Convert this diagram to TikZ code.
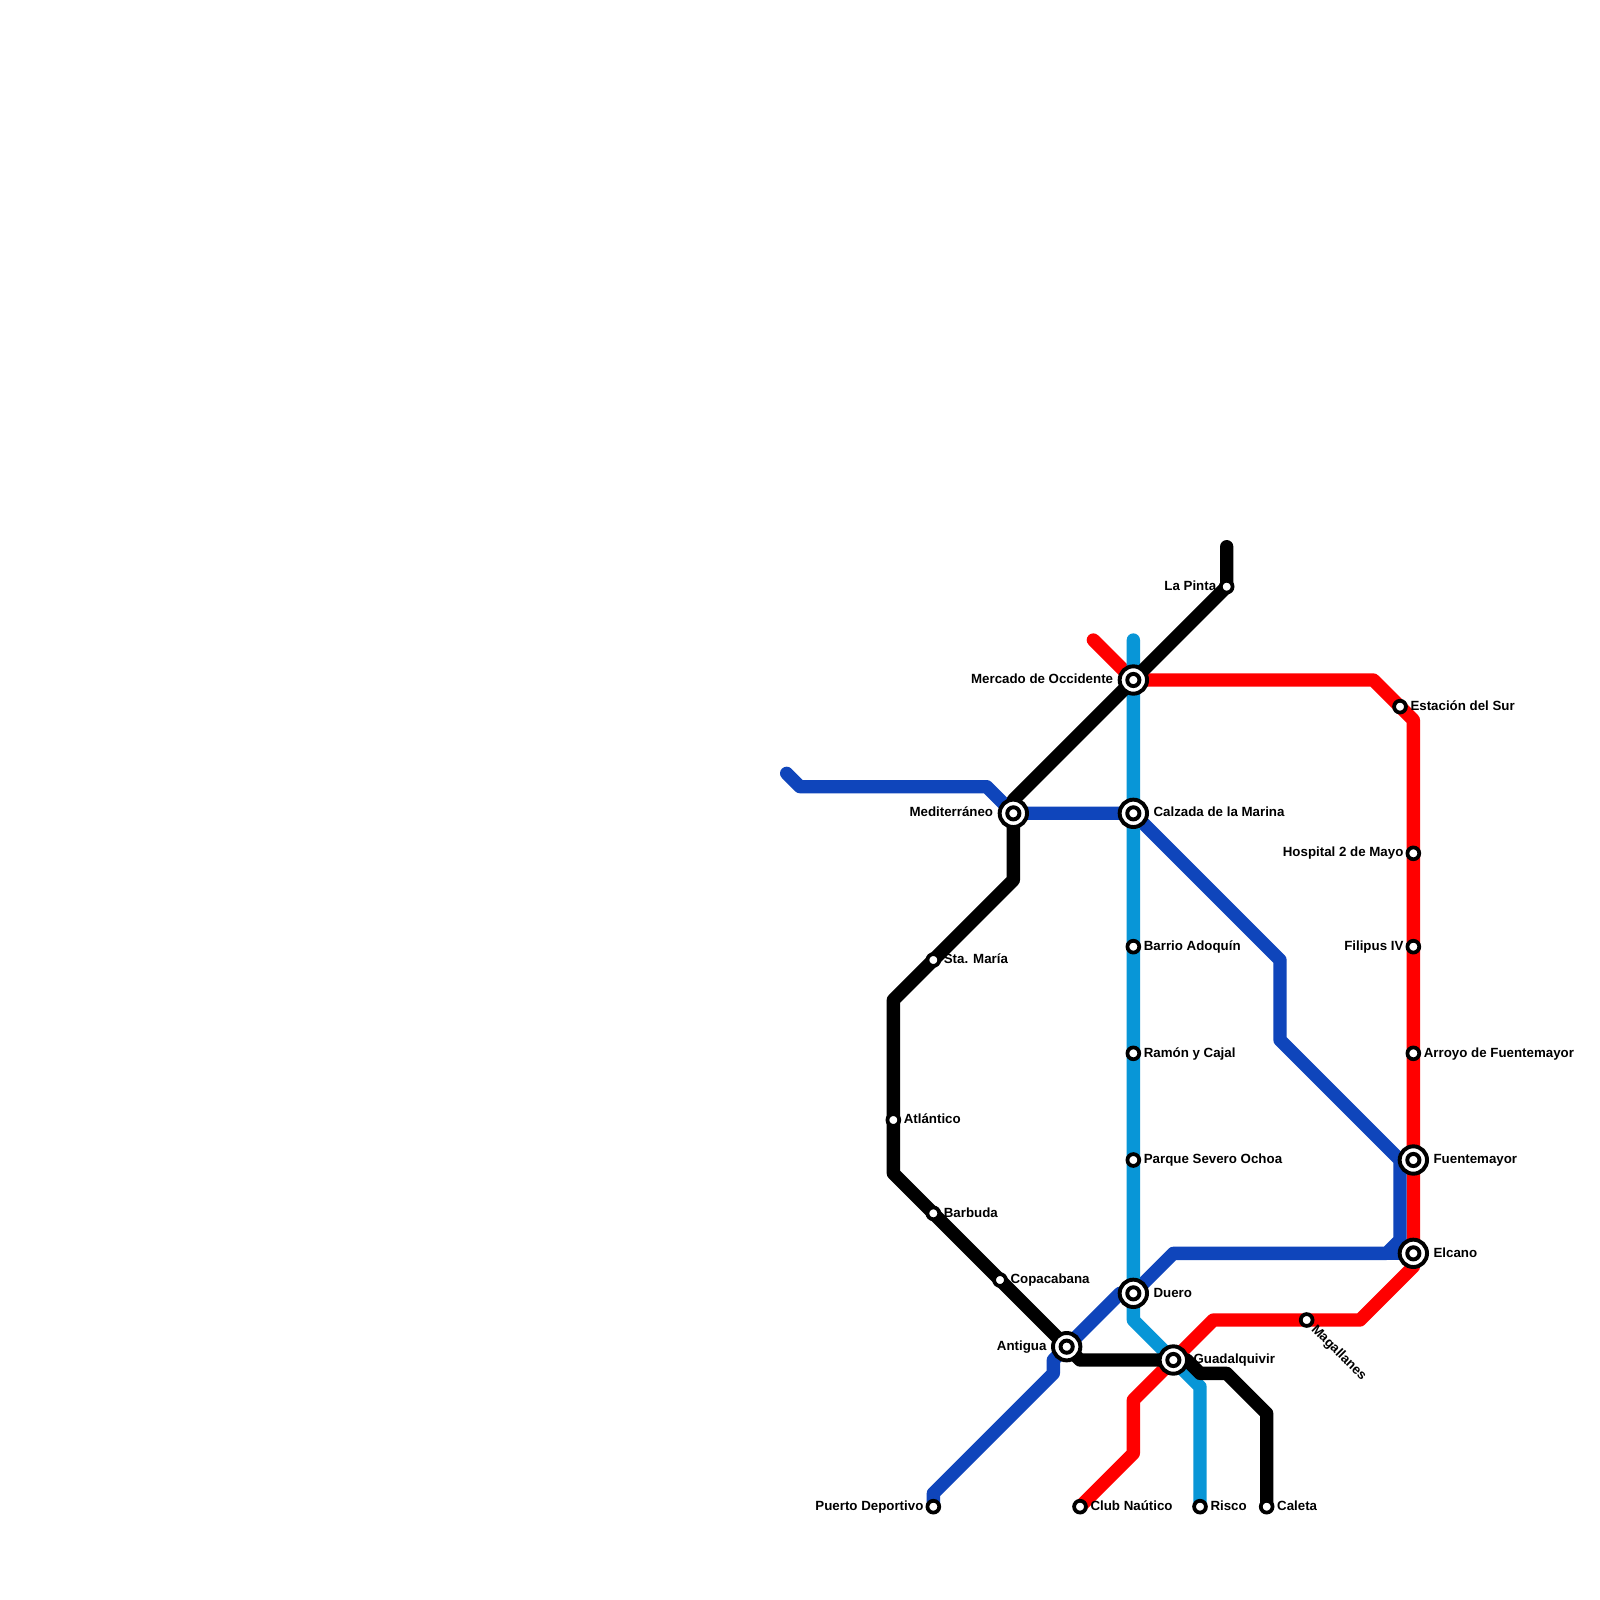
\documentclass[tikz,border=0pt]{standalone}
\usepackage{fontspec}
\setmainfont{Liberation Sans}
\usetikzlibrary{backgrounds}
\definecolor{lred}{HTML}{FF0000}
\definecolor{lblue}{HTML}{0F45BB}
\definecolor{lsky}{HTML}{0896D7}
\newcommand{\ST}[2]{\node[stsmall] (#1) at (#2) {};}
\newcommand{\IX}[2]{\node[stbig] (#1) at (#2) {}; \node[stcore] (#1core) at (#2) {};}
\newcommand{\LR}[3]{\node[lab,anchor=west,xshift=#3] (#1lab) at (#1.center) {#2};}
\newcommand{\LL}[3]{\node[lab,anchor=east,xshift=-#3] (#1lab) at (#1.center) {#2};}
\tikzset{
  x=0.25cm,y=-0.25cm,
  stsmall/.style={circle,draw=black,fill=white,line width=2pt,minimum size=6.3pt,inner sep=0pt,outer sep=0pt},
  stbig/.style={circle,draw=black,fill=white,line width=2.1pt,minimum size=14.6pt,inner sep=0pt,outer sep=0pt},
  stcore/.style={circle,draw=black,fill=white,line width=2.1pt,minimum size=6.5pt,inner sep=0pt,outer sep=0pt},
  lab/.style={font=\bfseries\fontsize{7.1pt}{8pt}\selectfont,inner sep=0pt,text height=5.2pt,text depth=1.5pt,yshift=-0.1pt},
  metro/.style={line width=7.1pt,line cap=round,line join=round},
}
\begin{document}
\begin{tikzpicture}
\useasboundingbox (0,0) rectangle (120,120);
% stations
\ST{pinta}{92,44}
\IX{mercado}{85,51}
\ST{sur}{105,53}
\IX{calzada}{85,61}
\IX{medit}{76,61}
\ST{hospital}{106,64}
\ST{filipus}{106,71}
\ST{arroyo}{106,79}
\IX{fuente}{106,87}
\IX{elcano}{106,94}
\ST{barrio}{85,71}
\ST{ramon}{85,79}
\ST{parque}{85,87}
\ST{maria}{70,72}
\ST{atlantico}{67,84}
\ST{barbuda}{70,91}
\ST{copa}{75,96}
\IX{duero}{85,97}
\IX{antigua}{80,101}
\IX{guada}{88,102}
\ST{magallanes}{98,99}
\ST{puerto}{70,113}
\ST{club}{81,113}
\ST{risco}{90,113}
\ST{caleta}{95,113}
% labels
\LL{pinta}{La Pinta}{5.4pt}
\LL{mercado}{Mercado de Occidente}{10.6pt}
\LR{sur}{Estación del Sur}{5.4pt}
\LR{calzada}{Calzada de la Marina}{10.6pt}
\LL{medit}{Mediterráneo}{10.6pt}
\LL{hospital}{Hospital 2 de Mayo}{5.1pt}
\LL{filipus}{Filipus IV}{5.1pt}
\LR{arroyo}{Arroyo de Fuentemayor}{5.4pt}
\LR{fuente}{Fuentemayor}{10.6pt}
\LR{elcano}{Elcano}{10.6pt}
\LR{barrio}{Barrio Adoquín}{5.4pt}
\LR{ramon}{Ramón y Cajal}{5.4pt}
\LR{parque}{Parque Severo Ochoa}{5.4pt}
\LR{maria}{Sta. María}{5.4pt}
\LR{atlantico}{Atlántico}{5.4pt}
\LR{barbuda}{Barbuda}{5.4pt}
\LR{copa}{Copacabana}{5.4pt}
\LR{duero}{Duero}{10.6pt}
\LL{antigua}{Antigua}{10.6pt}
\LR{guada}{Guadalquivir}{10.6pt}
\node[lab,anchor=west,rotate=-45,xshift=5.1pt,yshift=-0.3pt] (magallaneslab) at (magallanes.center) {Magallanes};
\LL{puerto}{Puerto Deportivo}{5.1pt}
\LR{club}{Club Naútico}{5.4pt}
\LR{risco}{Risco}{5.4pt}
\LR{caleta}{Caleta}{5.4pt}
% lines
\begin{pgfonlayer}{background}
\fill[white] (0,0) rectangle (120,120);
\draw[metro,lred] (82,48) -- (mercado.center) -- (103,51) -- (106,54) -- (fuente.center) -- (elcano.center) -- (106,95) -- (102,99) -- (magallanes.center) -- (91,99) -- (guada.center) -- (85,105) -- (85,109) -- (club.center);
\draw[metro,lblue] (59,58) -- (60,59) -- (74,59) -- (medit.center) -- (calzada.center) -- (96,72) -- (96,78) -- (105,87) -- (105,93) -- (104,94) -- (88,94) -- (duero.center) -- (84,97) -- (antigua.center) -- (79,102) -- (79,103) -- (70,112) -- (puerto.center);
\draw[metro,lblue] (104,94) -- (elcano.center);
\draw[metro,lsky] (85,48) -- (mercado.center) -- (calzada.center) -- (barrio.center) -- (ramon.center) -- (parque.center) -- (duero.center) -- (85,99) -- (guada.center) -- (90,104) -- (risco.center);
\draw[metro,black] (92,41) -- (pinta.center) -- (mercado.center) -- (76,60) -- (medit.center) -- (76,66) -- (maria.center) -- (67,75) -- (atlantico.center) -- (67,88) -- (barbuda.center) -- (copa.center) -- (antigua.center) -- (81,102) -- (guada.center) -- (89,102) -- (90,103) -- (92,103) -- (95,106) -- (caleta.center);
\end{pgfonlayer}
\end{tikzpicture}
\end{document}
